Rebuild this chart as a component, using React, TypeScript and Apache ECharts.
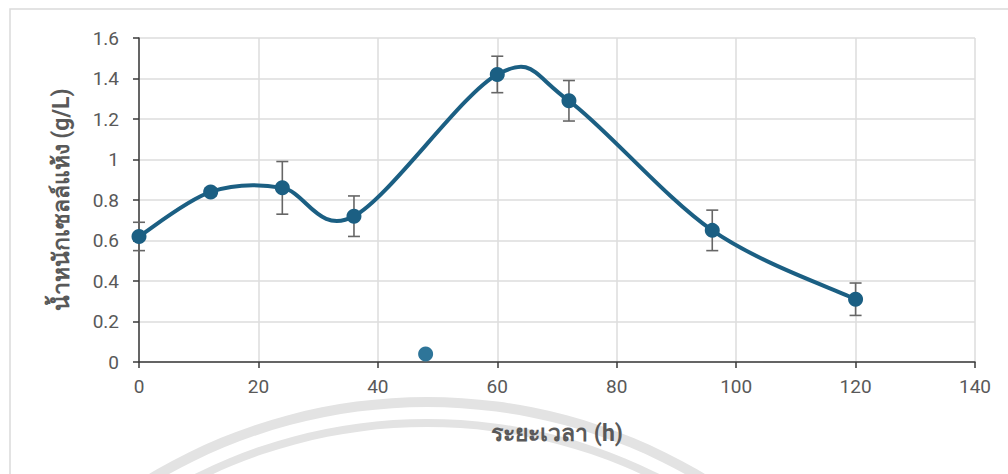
import React, { useEffect, useRef } from "react";
import * as echarts from "echarts";

// ---- data ----
const hours = [0, 12, 24, 36, 60, 72, 96, 120];
const dryWeight = [0.62, 0.84, 0.86, 0.72, 1.42, 1.29, 0.65, 0.31];
const errors = [0.07, 0.02, 0.13, 0.1, 0.09, 0.1, 0.1, 0.08];
const outlierHours = [48];
const outlierValues = [0.04];
const xAxisTitle = "ระยะเวลา (h)";
const yAxisTitle = "น้ำหนักเซลล์แห้ง (g/L)";

const LINE = "#1b5f83";
const TEXT = "#595959";
const FONT = "Roboto, 'Noto Sans', 'DejaVu Sans', sans-serif";

export default function App() {
  const ref = useRef<HTMLDivElement>(null);

  useEffect(() => {
    if (!ref.current) return;
    const chart = echarts.init(ref.current, undefined, { renderer: "svg" });

    const points = hours.map((h, i) => [h, dryWeight[i]]);
    const bars = hours.map((h, i) => [h, dryWeight[i] - errors[i], dryWeight[i] + errors[i]]);
    const outliers = outlierHours.map((h, i) => [h, outlierValues[i]]);

    const option: any = {
      animation: false,
      backgroundColor: "#ffffff",
      grid: { left: 139, right: 33, top: 38, bottom: 112, containLabel: false },
      xAxis: {
        type: "value",
        min: 0,
        max: 140,
        interval: 20,
        name: xAxisTitle,
        nameLocation: "middle",
        nameGap: 60,
        nameTextStyle: { color: TEXT, fontSize: 23, fontWeight: "bold", fontFamily: FONT },
        axisLine: { show: true, onZero: false, lineStyle: { color: "#3a3a3a", width: 1.5 } },
        axisTick: { show: true, inside: false, length: 6, lineStyle: { color: "#3a3a3a", width: 1.5 } },
        axisLabel: { color: TEXT, fontSize: 19, fontFamily: FONT, margin: 15 },
        splitLine: { show: true, lineStyle: { color: "#dcdcdc", width: 1.5 } },
      },
      yAxis: {
        type: "value",
        min: 0,
        max: 1.6,
        interval: 0.2,
        name: yAxisTitle,
        nameLocation: "middle",
        nameGap: 66,
        nameTextStyle: { color: TEXT, fontSize: 23, fontWeight: "bold", fontFamily: FONT },
        axisLine: { show: true, onZero: false, lineStyle: { color: "#3a3a3a", width: 1.5 } },
        axisTick: { show: true, inside: false, length: 6, lineStyle: { color: "#3a3a3a", width: 1.5 } },
        axisLabel: {
          color: TEXT,
          fontSize: 19,
          fontFamily: FONT,
          margin: 20,
          formatter: (v: number) => String(Math.round(v * 10) / 10),
        },
        splitLine: { show: true, lineStyle: { color: "#dcdcdc", width: 1.5 } },
      },
      graphic: [
        {
          type: "ring",
          z: -10,
          silent: true,
          shape: { cx: 427, cy: 937, r: 540, r0: 530 },
          style: { fill: "#e3e3e3" },
        },
        {
          type: "ring",
          z: -10,
          silent: true,
          shape: { cx: 427, cy: 937, r: 518, r0: 510 },
          style: { fill: "#e3e3e3" },
        },
        {
          type: "rect",
          z: -10,
          silent: true,
          shape: { x: 10, y: 9, width: 1010, height: 480 },
          style: { fill: "none", stroke: "#dadada", lineWidth: 1.5 },
        },
      ],
      series: [
        {
          type: "custom",
          name: "error",
          z: 2,
          data: bars,
          renderItem: (params: any, api: any) => {
            const x = api.value(0);
            const lo = api.coord([x, api.value(1)]);
            const hi = api.coord([x, api.value(2)]);
            const w = 6;
            const style = { stroke: "#666666", lineWidth: 1.6 };
            return {
              type: "group",
              children: [
                { type: "line", shape: { x1: lo[0], y1: lo[1], x2: hi[0], y2: hi[1] }, style },
                { type: "line", shape: { x1: lo[0] - w, y1: lo[1], x2: lo[0] + w, y2: lo[1] }, style },
                { type: "line", shape: { x1: hi[0] - w, y1: hi[1], x2: hi[0] + w, y2: hi[1] }, style },
              ],
            };
          },
        },
        {
          type: "custom",
          name: "curve",
          z: 3,
          data: points,
          renderItem: (params: any, api: any) => {
            const i = params.dataIndexInside;
            const n = params.dataInsideLength;
            if (i >= n - 1) return null;
            const pt = (k: number) => api.coord([api.value(0, k), api.value(1, k)]);
            const p0 = pt(Math.max(i - 1, 0));
            const p1 = pt(i);
            const p2 = pt(i + 1);
            const p3 = pt(Math.min(i + 2, n - 1));
            const c1 = [p1[0] + (p2[0] - p0[0]) / 6, p1[1] + (p2[1] - p0[1]) / 6];
            const c2 = [p2[0] - (p3[0] - p1[0]) / 6, p2[1] - (p3[1] - p1[1]) / 6];
            return {
              type: "bezierCurve",
              shape: {
                x1: p1[0], y1: p1[1], x2: p2[0], y2: p2[1],
                cpx1: c1[0], cpy1: c1[1], cpx2: c2[0], cpy2: c2[1],
              },
              style: { stroke: LINE, lineWidth: 4, fill: "none", lineCap: "round" },
            };
          },
        },
        {
          type: "scatter",
          name: "points",
          z: 4,
          symbol: "circle",
          symbolSize: 15,
          itemStyle: { color: LINE, opacity: 1 },
          data: points,
        },
        {
          type: "scatter",
          name: "outlier",
          z: 4,
          symbol: "circle",
          symbolSize: 15,
          itemStyle: { color: "#2e7599", opacity: 1 },
          data: outliers,
        },
      ],
    };

    chart.setOption(option);
    return () => chart.dispose();
  }, []);

  return (
    <div
      ref={ref}
      style={{ position: "fixed", left: 0, top: 0, width: 1008, height: 474, background: "#fff" }}
    />
  );
}
